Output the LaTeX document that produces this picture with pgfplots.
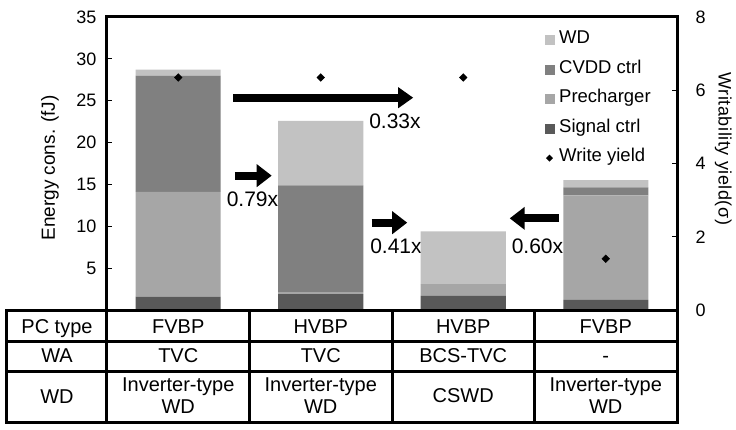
\documentclass[border=0pt]{standalone}
\usepackage{pgfplots}
\pgfplotsset{compat=1.18}
\usepackage{fontspec}
\setmainfont{Liberation Sans}
\usetikzlibrary{arrows.meta}
\definecolor{cWD}{RGB}{194,194,194}
\definecolor{cCV}{RGB}{128,128,128}
\definecolor{cPR}{RGB}{166,166,166}
\definecolor{cSG}{RGB}{89,89,89}
\newcommand{\fs}[1]{\fontsize{#1}{#1}\selectfont}
\begin{document}
\begin{tikzpicture}
\path[use as bounding box] (-107pt,-119pt) rectangle (629pt,310pt);
\begin{axis}[
  scale only axis, width=570pt, height=293pt,
  xmin=-0.5, xmax=3.5, ymin=0, ymax=35,
  ybar stacked, bar width=85pt,
  xtick=\empty,
  ytick={5,10,...,35}, ytick pos=left,
  tick align=inside,
  major tick length=5pt,
  every tick/.style={black, line width=1.2pt},
  axis line style={line width=3pt},
  yticklabel style={font=\fs{18}, xshift=-7pt},
  /pgf/number format/assume math mode=true,
  ylabel={Energy cons. (fJ)},
  every axis y label/.style={at={(axis description cs:-0.1,0.485)}, rotate=90, anchor=center, font=\fs{19}},
  clip=false,
]
\addplot[fill=cSG, draw=none] coordinates {(0,1.6) (1,1.9) (2,1.7) (3,1.2)};
\addplot[fill=cPR, draw=none] coordinates {(0,12.5) (1,0.25) (2,1.4) (3,12.5)};
\addplot[fill=cCV, draw=none] coordinates {(0,13.9) (1,12.75) (2,0) (3,0.95)};
\addplot[fill=cWD, draw=none] coordinates {(0,0.7) (1,7.7) (2,6.3) (3,0.85)};
\draw[line width=8pt, -{Triangle[length=15pt, width=20pt]}] (axis cs:0.386,25.36) -- (axis cs:1.649,25.36);
\draw[line width=8pt, -{Triangle[length=15pt, width=22pt]}] (axis cs:0.398,16.05) -- (axis cs:0.656,16.05);
\draw[line width=8pt, -{Triangle[length=15pt, width=22pt]}] (axis cs:1.357,10.43) -- (axis cs:1.607,10.43);
\draw[line width=8pt, -{Triangle[length=15pt, width=22pt]}] (axis cs:2.672,10.95) -- (axis cs:2.326,10.95);
\node[anchor=base, font=\fs{21}] at (axis cs:1.521,21.7) {0.33x};
\node[anchor=base, font=\fs{21}] at (axis cs:0.521,12.35) {0.79x};
\node[anchor=base, font=\fs{21}] at (axis cs:1.528,6.8) {0.41x};
\node[anchor=base, font=\fs{21}] at (axis cs:2.521,6.7) {0.60x};
\end{axis}
\begin{axis}[
  scale only axis, width=570pt, height=293pt,
  xmin=-0.5, xmax=3.5, ymin=0, ymax=8,
  xtick=\empty,
  axis line style={draw=none},
  ytick={0,2,...,8}, ytick pos=right, yticklabel pos=right,
  tick align=inside,
  major tick length=5pt,
  every tick/.style={black, line width=1.2pt},
  yticklabel style={font=\fs{18}, xshift=15pt},
  /pgf/number format/assume math mode=true,
  ylabel={\addfontfeatures{LetterSpace=3}Writability yield(σ)},
  every axis y label/.style={at={(axis description cs:1.081,0.55)}, rotate=-90, anchor=center, font=\fs{18}},
  legend style={at={(axis description cs:0.768,0.952)}, anchor=north west, draw=none, fill=none,
    inner sep=0pt, outer sep=0pt, font=\fs{18.5}, row sep=13.5pt, column sep=5pt,
    nodes={inner sep=0pt, text height=12.5pt, text depth=3.5pt}},
  legend cell align=left,
  clip=false,
]
\addlegendimage{legend image code/.code={\fill[cWD] (0pt,-5.5pt) rectangle (9pt,3.5pt);}}
\addlegendentry{WD}
\addlegendimage{legend image code/.code={\fill[cCV] (0pt,-5.5pt) rectangle (9pt,3.5pt);}}
\addlegendentry{CVDD ctrl}
\addlegendimage{legend image code/.code={\fill[cPR] (0pt,-5.5pt) rectangle (9pt,3.5pt);}}
\addlegendentry{Precharger}
\addlegendimage{legend image code/.code={\fill[cSG] (0pt,-5.5pt) rectangle (9pt,3.5pt);}}
\addlegendentry{Signal ctrl}
\addplot[only marks, black, mark=square*, mark size=2.7pt, mark options={rotate=45},
  legend image code/.code={\path[draw=none, fill=none] (0pt,-5.5pt) rectangle (9pt,3.5pt); \fill[black, draw=none] (4.5pt,2.5pt) -- (8pt,-1pt) -- (4.5pt,-4.5pt) -- (1pt,-1pt) -- cycle;}]
  coordinates {(0,6.35) (1,6.35) (2,6.35) (3,1.4)};
\addlegendentry{Write yield}
\end{axis}
% table below the chart
\begin{scope}[line width=3pt]
\draw (-100pt,0pt) rectangle (570pt,-112pt);
\draw (-100pt,-31pt) -- (570pt,-31pt);
\draw (-100pt,-61pt) -- (570pt,-61pt);
\foreach \x in {0,142.5,285,427.5} \draw (\x pt,0pt) -- (\x pt,-112pt);
\end{scope}
\begin{scope}[every node/.style={anchor=base, font=\fs{20}, inner sep=0pt}]
\node at (-50pt,-23.3pt) {PC type};
\node at (71.25pt,-23.3pt) {FVBP};
\node at (213.75pt,-23.3pt) {HVBP};
\node at (356.25pt,-23.3pt) {HVBP};
\node at (498.75pt,-23.3pt) {FVBP};
\node at (-50pt,-52.3pt) {WA};
\node at (71.25pt,-52.3pt) {TVC};
\node at (213.75pt,-52.3pt) {TVC};
\node at (356.25pt,-52.3pt) {BCS-TVC};
\node at (498.75pt,-52.3pt) {-};
\node at (-50pt,-93pt) {WD};
\node at (71.25pt,-81.7pt) {Inverter-type};
\node at (71.25pt,-103.3pt) {WD};
\node at (213.75pt,-81.7pt) {Inverter-type};
\node at (213.75pt,-103.3pt) {WD};
\node at (356.25pt,-92.5pt) {CSWD};
\node at (498.75pt,-81.7pt) {Inverter-type};
\node at (498.75pt,-103.3pt) {WD};
\end{scope}
\end{tikzpicture}
\end{document}
